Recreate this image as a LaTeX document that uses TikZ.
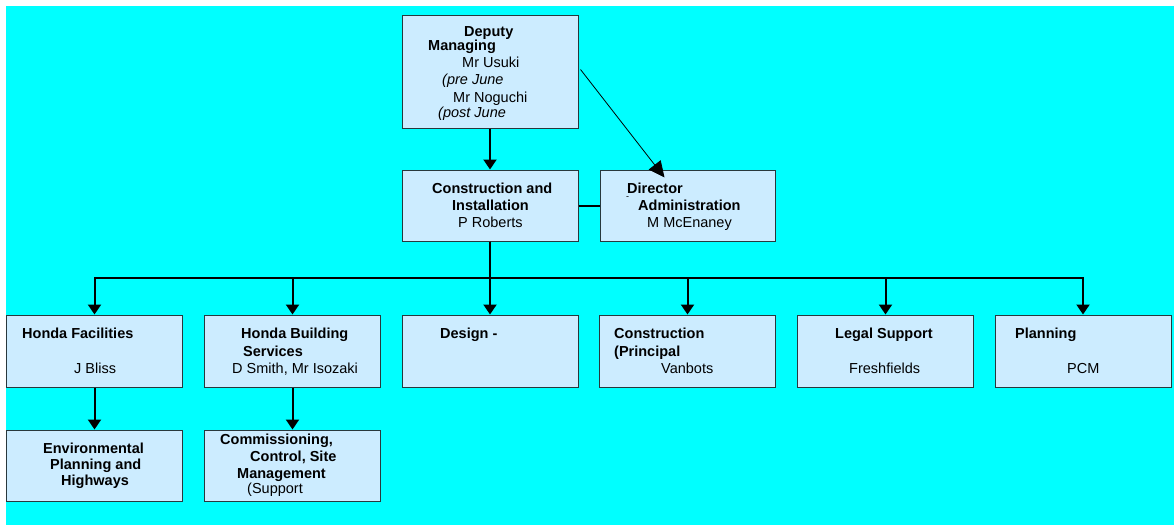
\documentclass[tikz,border=0pt]{standalone}
\usepackage{fontspec}
\setmainfont{Liberation Sans}
\usetikzlibrary{arrows.meta,calc}
\definecolor{bgcyan}{RGB}{0,255,255}
\definecolor{boxfill}{RGB}{204,236,255}
\definecolor{boxline}{RGB}{40,56,60}
\begin{document}
\begin{tikzpicture}[x=1pt,y=-1pt,
  orgbox/.style={draw=boxline,fill=boxfill,line width=1pt,rectangle,inner sep=0pt},
  rowbox/.style={orgbox,minimum width=176pt,minimum height=72pt},
  txt/.style={anchor=base west,inner sep=0pt,font=\fontsize{14.5}{17}\selectfont},
  ttl/.style={txt,font=\fontsize{14.5}{17}\selectfont\bfseries},
  itx/.style={txt,font=\fontsize{14.5}{17}\selectfont\itshape},
  conn/.style={line width=2pt,draw=black},
  arr/.style={conn,-{Triangle[width=13pt,length=10pt]}},
  thinarr/.style={line width=0.8pt,draw=black,-{Triangle[width=15pt,length=16pt]}}
]
\useasboundingbox (0,0) rectangle (1174,525);
\fill[white] (0,0) rectangle (1174,525);
\fill[bgcyan] (6,6) rectangle (1174,525);

% boxes
\node[orgbox,minimum width=176pt,minimum height=113pt] (dep) at (490,71.5) {};
\node[orgbox,minimum width=176pt,minimum height=71pt] (ci) at (490,205.5) {};
\node[orgbox,minimum width=175pt,minimum height=71pt] (dir) at (687.5,205.5) {};
\node[rowbox] (hf)  at (94.5,351) {};
\node[rowbox] (hb)  at (292.5,351) {};
\node[rowbox] (des) at (490,351) {};
\node[rowbox] (con) at (687.5,351) {};
\node[rowbox] (leg) at (885.5,351) {};
\node[rowbox] (pla) at (1083,351) {};
\node[rowbox,minimum height=71pt] (env) at (94.5,465.5) {};
\node[rowbox,minimum height=71pt] (com) at (292.5,465.5) {};

% connectors
\draw[arr] (dep) -- (ci);
\draw[conn] (ci.east) -- (dir.west);
\draw[thinarr] ($(dep.east)+(2,-2)$) -- ($(dir.north west)+(65,8)$);
\foreach \b in {hf,hb,des,con,leg,pla}{
  \draw[arr] (ci.south) -- ++(0,36.5) -| (\b.north);
}
\draw[arr] (hf) -- (env);
\draw[arr] (hb) -- (com);

% texts: deputy
\node[ttl] (t1) at (464,36) {Deputy};
\node[ttl] (t2) at (428,50) {Managing};
\node[txt] (t3) at (462,67) {Mr Usuki};
\node[itx] (t4) at (442,84) {(pre June};
\node[txt] (t5) at (453,102) {Mr Noguchi};
\node[itx] (t6) at (438,117) {(post June};
% construction & installation
\node[ttl] (t7) at (432,193) {Construction and};
\node[ttl] (t8) at (452,210) {Installation};
\node[txt] (t9) at (458,227) {P Roberts};
% director
\node[ttl] (t10) at (627,193) {Director};
\node[txt,font=\fontsize{9}{10}\selectfont] (t10b) at (626,199) {-};
\node[ttl] (t11) at (638,210) {Administration};
\node[txt] (t12) at (647,227) {M McEnaney};
% row 2
\node[ttl] (t13) at (22,338) {Honda Facilities};
\node[txt] (t14) at (74,373) {J Bliss};
\node[ttl] (t15) at (241,338) {Honda Building};
\node[ttl] (t16) at (243,356) {Services};
\node[txt] (t17) at (232,373) {D Smith, Mr Isozaki};
\node[ttl] (t18) at (440,338) {Design -};
\node[ttl] (t19) at (614,338) {Construction};
\node[ttl] (t20) at (614,356) {(Principal};
\node[txt] (t21) at (661,373) {Vanbots};
\node[ttl] (t22) at (835,338) {Legal Support};
\node[txt] (t23) at (849,373) {Freshfields};
\node[ttl] (t24) at (1015,338) {Planning};
\node[txt] (t25) at (1067,373) {PCM};
% row 3
\node[ttl] (t26) at (43,453) {Environmental};
\node[ttl] (t27) at (50,469) {Planning and};
\node[ttl] (t28) at (61,485) {Highways};
\node[ttl] (t29) at (220,444) {Commissioning,};
\node[ttl] (t30) at (250,461) {Control, Site};
\node[ttl] (t31) at (237,478) {Management};
\node[txt] (t32) at (247,493) {(Support};
\end{tikzpicture}
\end{document}
